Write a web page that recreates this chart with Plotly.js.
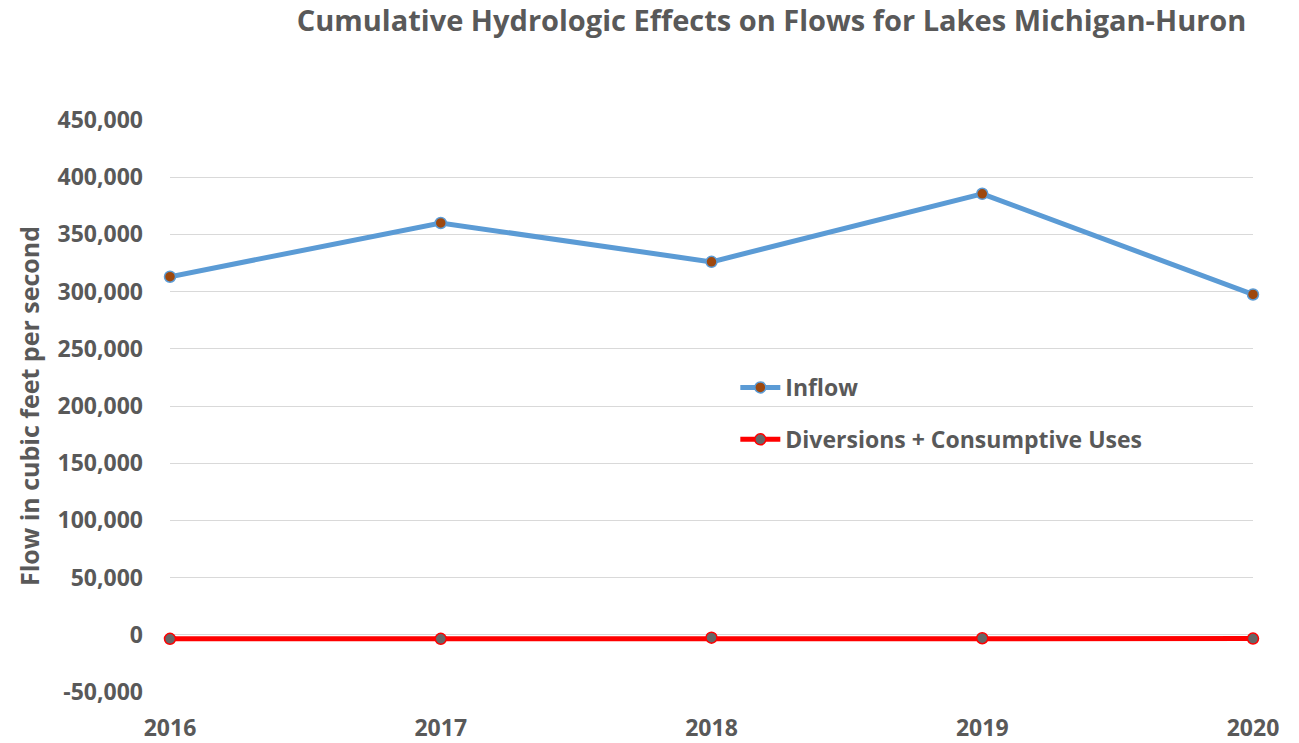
<!DOCTYPE html>
<html>
<head>
<meta charset="utf-8">
<script src="https://cdn.plot.ly/plotly-3.0.1.min.js"></script>
<style>html,body{margin:0;padding:0;background:#fff;}#chart{width:1299px;height:743px;}</style>
</head>
<body>
<div id="chart"></div>
<script>
const years = [2016, 2017, 2018, 2019, 2020];
const inflow = [313000, 360000, 326000, 385500, 297500];
const diversions = [-3500, -3500, -2500, -3000, -3300];
const yTickVals = [-50000, 0, 50000, 100000, 150000, 200000, 250000, 300000, 350000, 400000, 450000];
const yTickText = ['-50,000', '0', '50,000', '100,000', '150,000', '200,000', '250,000', '300,000', '350,000', '400,000', '450,000'];
const seriesNames = ['Inflow', 'Diversions + Consumptive Uses'];

const FONT = 'Open Sans, Liberation Sans, sans-serif';
const GREY = '#595959';

const traces = [
  {
    x: years, y: inflow, name: seriesNames[0], type: 'scatter', mode: 'lines+markers',
    line: {color: '#5b9bd5', width: 5},
    marker: {color: '#9e480e', size: 11, line: {color: '#5b9bd5', width: 1.5}},
    cliponaxis: false, legendgroup: 'a'
  },
  {
    x: years, y: diversions, name: seriesNames[1], type: 'scatter', mode: 'lines+markers',
    line: {color: '#ff0000', width: 5},
    marker: {color: '#666666', size: 11, line: {color: '#ff0000', width: 1.5}},
    cliponaxis: false, legendgroup: 'b'
  }
];

const layout = {
  width: 1299, height: 743,
  paper_bgcolor: '#fff', plot_bgcolor: '#fff',
  margin: {l: 170, r: 46, t: 120, b: 51},
  font: {family: FONT, color: GREY},
  title: {
    text: '<b>Cumulative Hydrologic Effects on Flows for Lakes Michigan-Huron</b>',
    font: {family: FONT, size: 29, color: GREY},
    x: 0.594, xanchor: 'center', y: 0.972, yanchor: 'middle'
  },
  xaxis: {
    range: [2016, 2020], tickvals: years, ticktext: years.map(String),
    showgrid: false, zeroline: false, showline: false, ticks: '',
    ticklabelstandoff: 20,
    tickfont: {family: FONT, size: 23, color: GREY, weight: 'bold'}
  },
  yaxis: {
    range: [-50000, 450000], tickvals: yTickVals, ticktext: yTickText,
    showgrid: true, gridcolor: '#d9d9d9', gridwidth: 1, zeroline: false, showline: false, ticks: '',
    ticklabelstandoff: 26,
    tickfont: {family: FONT, size: 23, color: GREY, weight: 'bold'},
    title: {text: '<b>Flow in cubic feet per second</b>', font: {family: FONT, size: 25, color: GREY}, standoff: 10}
  },
  showlegend: true,
  legend: {
    x: 0.522, y: 0.57, xanchor: 'left', yanchor: 'top',
    font: {family: FONT, size: 23, color: GREY, weight: 'bold'},
    bgcolor: 'rgba(0,0,0,0)', tracegroupgap: 19, itemwidth: 40
  }
};

Plotly.newPlot('chart', traces, layout, {displayModeBar: false, responsive: false});
</script>
</body>
</html>
